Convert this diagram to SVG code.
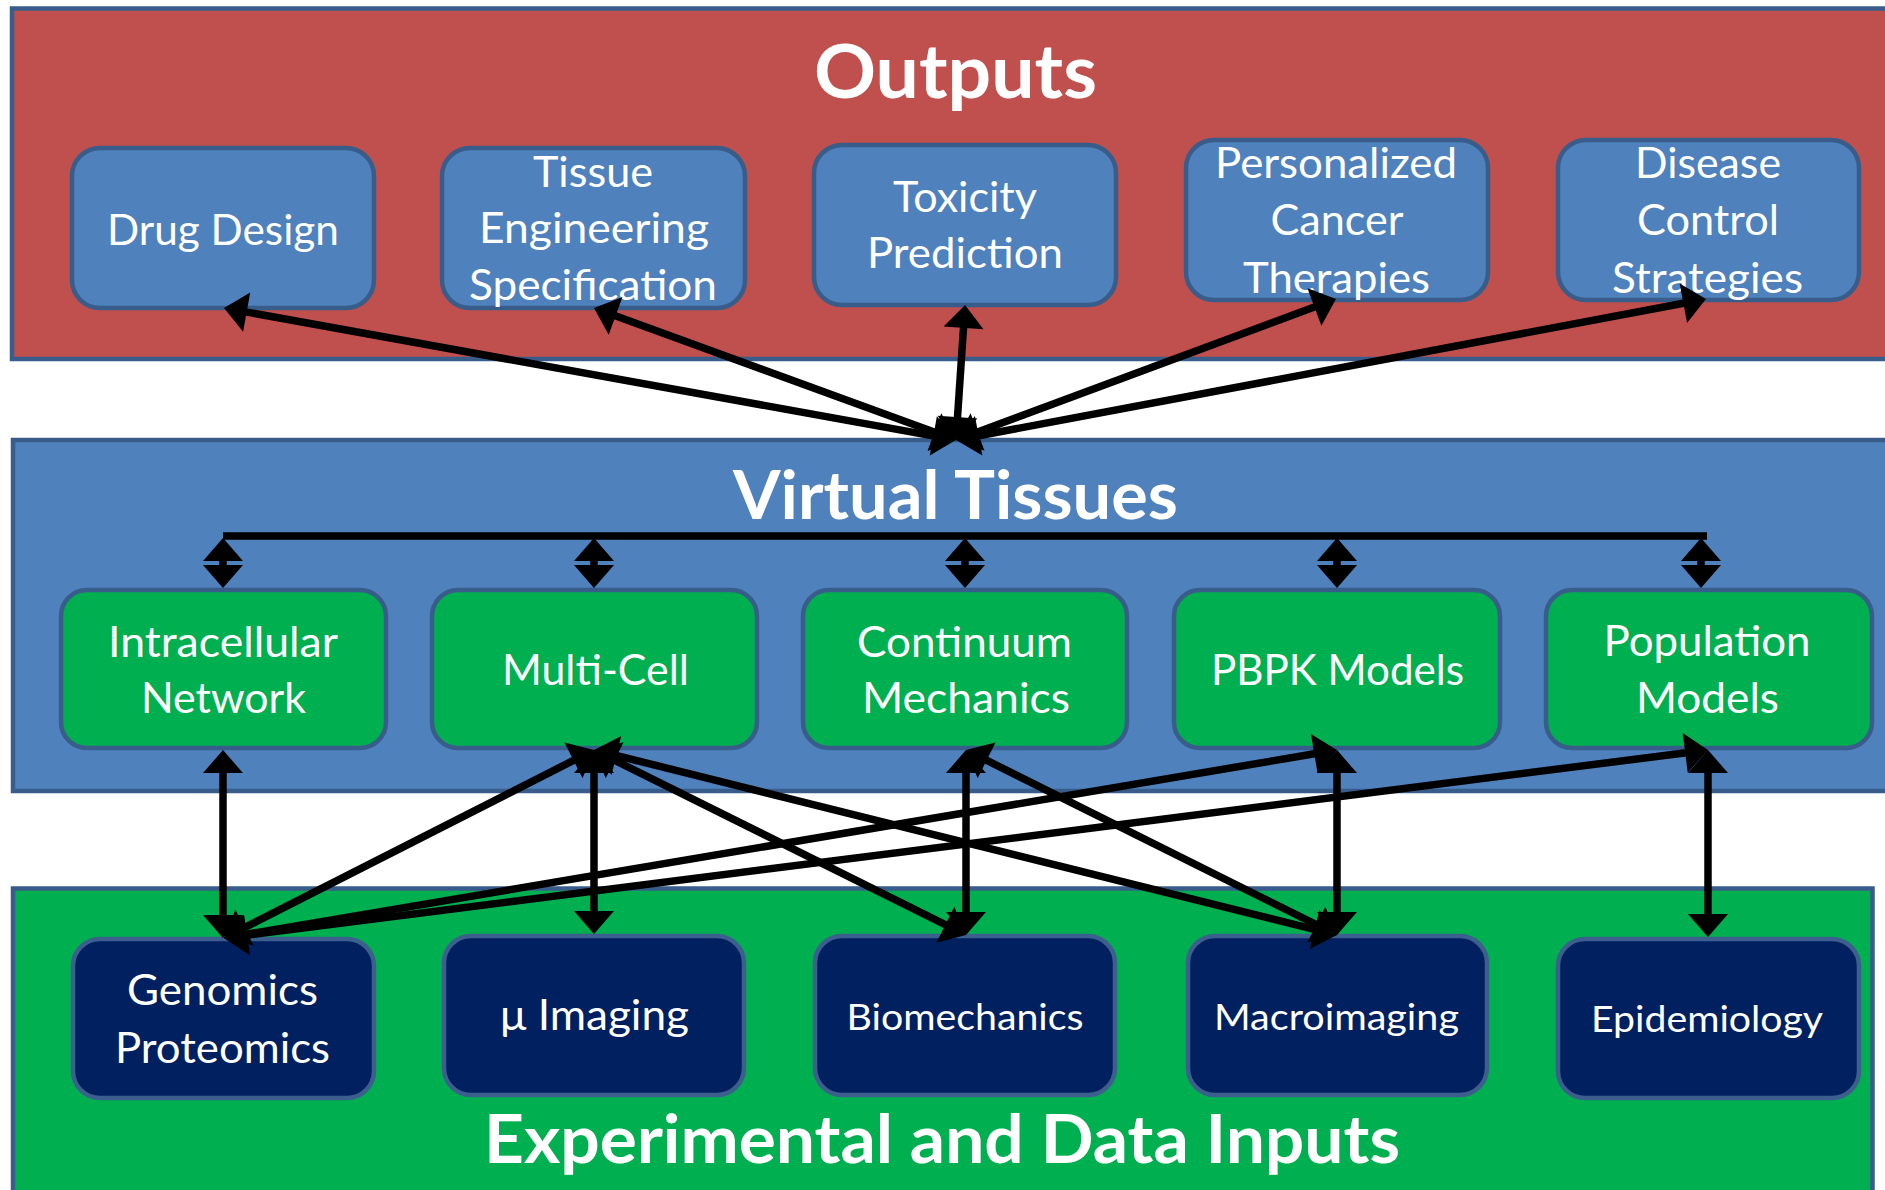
<svg xmlns="http://www.w3.org/2000/svg" width="1885" height="1190" viewBox="0 0 1885 1190">
<defs>
<marker id="ah" markerUnits="userSpaceOnUse" markerWidth="23" markerHeight="40" refX="15" refY="20" orient="auto-start-reverse" overflow="visible">
<path d="M0,0 L23,20 L0,40 Z" fill="#000"/>
</marker>
<style>
.panel{stroke:#385d8a;stroke-width:4.5}
.out{fill:#4f81bd;stroke:#385d8a;stroke-width:4.5}
.mid{fill:#00b050;stroke:#385d8a;stroke-width:4.5}
.inp{fill:#002060;stroke:#3d5f8e;stroke-width:4.5}
.t{font-family:Lato,"Open Sans","Liberation Sans",sans-serif;fill:#fff;text-anchor:middle;font-size:42px}
.ts{font-size:37px}
.title{font-family:Lato,"Open Sans","Liberation Sans",sans-serif;fill:#fff;text-anchor:middle;font-weight:bold;font-size:66px}
.c line{stroke:#000;stroke-width:7.5;marker-start:url(#ah);marker-end:url(#ah)}
.c line.bus{marker-start:none;marker-end:none}
</style>
</defs>

<g id="panel-outputs">
<rect class="panel" x="12" y="8.5" width="1900" height="350.5" fill="#c0504d"/>
<text class="title" x="955.5" y="98" style="font-size:75px" textLength="283" lengthAdjust="spacingAndGlyphs">Outputs</text>
</g>
<g id="panel-virtual">
<rect class="panel" x="13" y="440" width="1900" height="351" fill="#4f81bd"/>
<text class="title" x="955.5" y="519" textLength="445" lengthAdjust="spacingAndGlyphs">Virtual Tissues</text>
</g>
<g id="panel-inputs">
<rect class="panel" x="13" y="888.5" width="1859.5" height="400" fill="#00b050"/>
<text class="title" x="942" y="1163" textLength="916" lengthAdjust="spacingAndGlyphs">Experimental and Data Inputs</text>
</g>

<g id="drug-design">
<rect class="out" x="72" y="148" width="302" height="160" rx="28"/>
<text class="t" x="223" y="245" textLength="232" lengthAdjust="spacingAndGlyphs">Drug Design</text>
</g>
<g id="tissue-engineering">
<rect class="out" x="442" y="148" width="303" height="160" rx="28"/>
<text class="t" x="593" y="187" textLength="120" lengthAdjust="spacingAndGlyphs">Tissue</text>
<text class="t" x="594" y="243" textLength="230" lengthAdjust="spacingAndGlyphs">Engineering</text>
<text class="t" x="593" y="300" textLength="248" lengthAdjust="spacingAndGlyphs">Specification</text>
</g>
<g id="toxicity-prediction">
<rect class="out" x="814" y="145" width="302" height="160" rx="28"/>
<text class="t" x="965" y="212" textLength="144" lengthAdjust="spacingAndGlyphs">Toxicity</text>
<text class="t" x="965" y="268" textLength="196" lengthAdjust="spacingAndGlyphs">Prediction</text>
</g>
<g id="personalized-cancer">
<rect class="out" x="1186" y="140" width="302" height="160" rx="28"/>
<text class="t" x="1336" y="178" textLength="242" lengthAdjust="spacingAndGlyphs">Personalized</text>
<text class="t" x="1337" y="235" textLength="133" lengthAdjust="spacingAndGlyphs">Cancer</text>
<text class="t" x="1336.5" y="293" textLength="187" lengthAdjust="spacingAndGlyphs">Therapies</text>
</g>
<g id="disease-control">
<rect class="out" x="1558" y="140" width="301" height="160" rx="28"/>
<text class="t" x="1708" y="178" textLength="146" lengthAdjust="spacingAndGlyphs">Disease</text>
<text class="t" x="1708" y="235" textLength="142" lengthAdjust="spacingAndGlyphs">Control</text>
<text class="t" x="1707.5" y="293" textLength="191" lengthAdjust="spacingAndGlyphs">Strategies</text>
</g>

<g id="intracellular-network">
<rect class="mid" x="61" y="590" width="325" height="158" rx="26"/>
<text class="t" x="223" y="657" textLength="230" lengthAdjust="spacingAndGlyphs">Intracellular</text>
<text class="t" x="223.5" y="713" textLength="165" lengthAdjust="spacingAndGlyphs">Network</text>
</g>
<g id="multi-cell">
<rect class="mid" x="432" y="590" width="325" height="158" rx="26"/>
<text class="t" x="595.5" y="685" textLength="187" lengthAdjust="spacingAndGlyphs">Multi-Cell</text>
</g>
<g id="continuum-mechanics">
<rect class="mid" x="803" y="590" width="324" height="158" rx="26"/>
<text class="t" x="964.5" y="657" textLength="215" lengthAdjust="spacingAndGlyphs">Continuum</text>
<text class="t" x="966" y="713" textLength="208" lengthAdjust="spacingAndGlyphs">Mechanics</text>
</g>
<g id="pbpk-models">
<rect class="mid" x="1174" y="590" width="326" height="158" rx="26"/>
<text class="t" x="1337.5" y="685" textLength="253" lengthAdjust="spacingAndGlyphs">PBPK Models</text>
</g>
<g id="population-models">
<rect class="mid" x="1546" y="590" width="326" height="158" rx="26"/>
<text class="t" x="1707" y="656" textLength="207" lengthAdjust="spacingAndGlyphs">Population</text>
<text class="t" x="1707.5" y="713" textLength="143" lengthAdjust="spacingAndGlyphs">Models</text>
</g>

<g id="genomics-proteomics">
<rect class="inp" x="73" y="939" width="301" height="159" rx="27"/>
<text class="t" x="222.5" y="1005" textLength="191" lengthAdjust="spacingAndGlyphs">Genomics</text>
<text class="t" x="222.5" y="1063" textLength="215" lengthAdjust="spacingAndGlyphs">Proteomics</text>
</g>
<g id="mu-imaging">
<rect class="inp" x="444" y="936" width="300" height="159" rx="27"/>
<text class="t" x="594.5" y="1030" textLength="189" lengthAdjust="spacingAndGlyphs">μ Imaging</text>
</g>
<g id="biomechanics">
<rect class="inp" x="815" y="936" width="300" height="159" rx="27"/>
<text class="t ts" x="965" y="1030" textLength="237" lengthAdjust="spacingAndGlyphs">Biomechanics</text>
</g>
<g id="macroimaging">
<rect class="inp" x="1188" y="936" width="299" height="159" rx="27"/>
<text class="t ts" x="1336.5" y="1030" textLength="245" lengthAdjust="spacingAndGlyphs">Macroimaging</text>
</g>
<g id="epidemiology">
<rect class="inp" x="1558" y="939" width="301" height="159" rx="27"/>
<text class="t ts" x="1707" y="1032" textLength="232" lengthAdjust="spacingAndGlyphs">Epidemiology</text>
</g>

<g id="connectors" class="c">
<line x1="231.9" y1="309.4" x2="948.1" y2="438.6"/>
<line x1="601.5" y1="310.7" x2="948.5" y2="437.3"/>
<line x1="964.5" y1="313" x2="956.5" y2="432"/>
<line x1="1328.5" y1="301.8" x2="963.5" y2="437.2"/>
<line x1="1698.1" y1="300.5" x2="963.9" y2="438.5"/>

<line class="bus" x1="223" y1="536" x2="1707" y2="536"/>
<line x1="223" y1="546" x2="223" y2="580"/>
<line x1="594" y1="546" x2="594" y2="580"/>
<line x1="965" y1="546" x2="965" y2="580"/>
<line x1="1337" y1="546" x2="1337" y2="580"/>
<line x1="1701" y1="546" x2="1701" y2="580"/>

<line x1="223" y1="758" x2="223" y2="930"/>
<line x1="586.9" y1="753.6" x2="231.1" y2="934.4"/>
<line x1="594" y1="758" x2="594" y2="926"/>
<line x1="601.2" y1="753.6" x2="958.8" y2="931.4"/>
<line x1="601.8" y1="751.9" x2="1329.2" y2="933.1"/>
<line x1="966" y1="758" x2="966" y2="927"/>
<line x1="973.2" y1="753.6" x2="1329.8" y2="931.4"/>
<line x1="1329.1" y1="751.3" x2="231.9" y2="936.7"/>
<line x1="1337" y1="758" x2="1337" y2="927"/>
<line x1="1700.1" y1="751" x2="231.9" y2="937"/>
<line x1="1708" y1="758" x2="1708" y2="929"/>
</g>
</svg>
